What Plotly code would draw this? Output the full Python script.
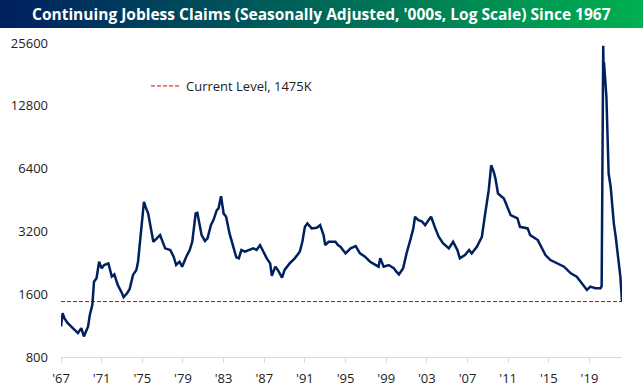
import plotly.graph_objects as go

# ---- data ----
dates = [
    "1967-01-01", "1967-03-01", "1967-05-01", "1967-09-01", "1968-03-01", "1968-09-01",
    "1969-01-01", "1969-04-01", "1969-09-01", "1969-11-01", "1970-02-01", "1970-04-01",
    "1970-07-01", "1970-10-01", "1971-01-01", "1971-04-01", "1971-09-01", "1972-01-01",
    "1972-04-01", "1972-08-01", "1973-01-01", "1973-03-01", "1973-07-01", "1973-10-01",
    "1974-02-01", "1974-06-01", "1974-08-01", "1974-10-01", "1975-01-01", "1975-03-01",
    "1975-05-01", "1975-08-01", "1976-02-01", "1976-10-01", "1977-04-01", "1977-10-01",
    "1978-02-01", "1978-05-01", "1978-09-01", "1978-12-01", "1979-05-01", "1979-09-01",
    "1979-12-01", "1980-04-01", "1980-06-01", "1980-11-01", "1981-03-01", "1981-06-01",
    "1981-10-01", "1982-01-01", "1982-05-01", "1982-07-01", "1982-10-01", "1983-01-01",
    "1983-04-01", "1983-08-01", "1984-01-01", "1984-04-01", "1984-07-01", "1984-10-01",
    "1985-02-01", "1985-08-01", "1985-12-01", "1986-04-01", "1986-08-01", "1986-11-01",
    "1987-04-01", "1987-08-01", "1987-10-01", "1988-02-01", "1988-05-01", "1988-10-01",
    "1989-01-01", "1989-07-01", "1990-01-01", "1990-07-01", "1990-10-01", "1991-01-01",
    "1991-04-01", "1991-09-01", "1992-03-01", "1992-07-01", "1992-11-01", "1993-01-01",
    "1993-05-01", "1994-01-01", "1994-04-01", "1994-07-01", "1995-01-01", "1995-07-01",
    "1996-01-01", "1996-06-01", "1996-12-01", "1997-06-01", "1997-12-01", "1998-04-01",
    "1998-06-01", "1998-10-01", "1999-04-01", "1999-10-01", "2000-01-01", "2000-04-01",
    "2000-09-01", "2001-01-01", "2001-06-01", "2001-09-01", "2001-11-01", "2002-03-01",
    "2002-07-01", "2002-11-01", "2003-03-01", "2003-06-01", "2003-11-01", "2004-03-01",
    "2004-08-01", "2005-03-01", "2005-08-01", "2006-01-01", "2006-04-01", "2006-10-01",
    "2007-03-01", "2007-06-01", "2007-12-01", "2008-06-01", "2008-09-01", "2009-02-01",
    "2009-05-01", "2009-08-01", "2009-10-01", "2010-01-01", "2010-08-01", "2010-12-01",
    "2011-04-01", "2011-12-01", "2012-03-01", "2012-12-01", "2013-03-01", "2013-12-01",
    "2014-03-01", "2014-09-01", "2015-03-01", "2015-11-01", "2016-07-01", "2017-03-01",
    "2017-10-01", "2018-04-01", "2018-10-01", "2019-02-01", "2019-08-01", "2020-02-01",
    "2020-03-14", "2020-05-09", "2020-05-23", "2020-06-06", "2020-09-01", "2020-09-20",
    "2020-11-20", "2021-02-01", "2021-04-01", "2021-05-25", "2021-08-01", "2021-10-01",
    "2021-11-25", "2022-01-15", "2022-03-15",
]
claims = [
    1120, 1298, 1229, 1163, 1100, 1042,
    1100, 1003, 1120, 1273, 1422, 1838,
    1908, 2290, 2128, 2208, 2248, 1943,
    1990, 1773, 1618, 1548, 1618, 1690,
    1980, 2091, 2290, 2803, 3760, 4430,
    4195, 3900, 2853, 3072, 2654, 2606,
    2420, 2208, 2290, 2168, 2420, 2606,
    2853, 3900, 3928, 3072, 2880, 2964,
    3430, 3624, 4046, 4120, 4720, 3900,
    3760, 3130, 2654, 2402, 2377, 2606,
    2558, 2606, 2654, 2606, 2752, 2606,
    2377, 2248, 1958, 2168, 2091, 1921,
    2091, 2248, 2377, 2558, 2853, 3366,
    3494, 3307, 3333, 3430, 3072, 2752,
    2853, 2853, 2752, 2700, 2510, 2654,
    2723, 2510, 2420, 2290, 2208, 2168,
    2377, 2168, 2208, 2130, 2052, 1990,
    2130, 2510, 2964, 3307, 3760, 3624,
    3580, 3430, 3624, 3760, 3307, 3016,
    2810, 2654, 2853, 2606, 2377, 2466,
    2606, 2510, 2700, 3016, 3690, 5042,
    6636, 6166, 5730, 4860, 4600, 4195,
    3830, 3690, 3366, 3307, 3072, 2908,
    2752, 2466, 2332, 2248, 2168, 2015,
    1942, 1806, 1677, 1740, 1708, 1708,
    1750, 24850, 18900, 20700, 14070, 11700,
    6060, 5227, 4046, 3494, 3016, 2606,
    2332, 1942, 1475,
]
current_level = 1475
current_label = "Current Level, 1475K"
title_text = "Continuing Jobless Claims (Seasonally Adjusted, '000s, Log Scale) Since 1967"
y_ticks = [800, 1600, 3200, 6400, 12800, 25600]
x_tick_years = list(range(1967, 2020, 4))
x_tick_labels = ["'" + str(y)[2:] for y in x_tick_years]

# ---- layout geometry (pixels) ----
W, H = 643, 390
L, R, T, B = 61, 21, 43, 33
pw, ph = W - L - R, H - T - B

def px_x(px):
    return (px - L) / pw

def px_y(py):
    return (H - B - py) / ph

fig = go.Figure()

fig.add_trace(go.Scatter(
    x=[dates[0], dates[-1]], y=[current_level, current_level],
    mode="lines", name=current_label,
    line=dict(color="#e00000", width=1, dash="4px,2px"),
    hoverinfo="skip",
))
fig.add_trace(go.Scatter(
    x=dates, y=claims, mode="lines", name="Continuing Claims",
    line=dict(color="#002060", width=2.5), showlegend=False,
))

# gradient banner
n = 160
c0 = (0, 32, 96)
c1 = (0, 176, 80)
x_left, x_right = px_x(0), px_x(W)
for i in range(n):
    t = i / (n - 1)
    col = tuple(round(c0[k] + (c1[k] - c0[k]) * t) for k in range(3))
    xa = x_left + (x_right - x_left) * i / n
    xb = x_left + (x_right - x_left) * (i + 1.6) / n
    fig.add_shape(type="rect", xref="paper", yref="paper",
                  x0=xa, x1=min(xb, x_right), y0=px_y(28), y1=px_y(0),
                  fillcolor="rgb(%d,%d,%d)" % col, line=dict(width=0), layer="above")

fig.add_annotation(text="<b>" + title_text + "</b>", xref="paper", yref="paper",
                   x=px_x(W / 2), y=px_y(14), xanchor="center", yanchor="middle",
                   showarrow=False, font=dict(family="Open Sans", size=15.5, color="white"))

fig.update_layout(
    width=W, height=H,
    margin=dict(l=L, r=R, t=T, b=B, autoexpand=False),
    paper_bgcolor="white", plot_bgcolor="white",
    font=dict(family="Open Sans", size=13, color="#222222"),
    showlegend=True,
    legend=dict(x=px_x(146), y=px_y(86), xanchor="left", yanchor="middle",
                bgcolor="rgba(0,0,0,0)", borderwidth=0,
                font=dict(family="Open Sans", size=13, color="#222222")),
    xaxis=dict(
        type="date",
        range=[dates[0], dates[-1]],
        tickvals=["%d-01-01" % y for y in x_tick_years],
        ticktext=x_tick_labels,
        showgrid=False, zeroline=False,
        showline=True, linecolor="#d9d9d9", linewidth=1,
        ticks="outside", ticklen=5, tickcolor="#d9d9d9",
        ticklabelstandoff=4, automargin=False,
    ),
    yaxis=dict(
        type="log",
        range=[2.90309, 4.40824],
        tickvals=y_ticks,
        ticktext=[str(v) for v in y_ticks],
        showgrid=False, zeroline=False, showline=False,
        ticks="", ticklabelstandoff=12, automargin=False,
    ),
)

fig.write_html("out.html", config={"displayModeBar": False},
               post_script="document.body.style.margin='0';")
